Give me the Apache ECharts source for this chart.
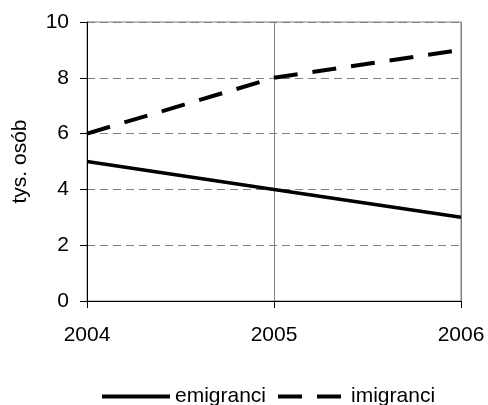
<!DOCTYPE html>
<html>
<head>
<meta charset="utf-8">
<script src="https://cdn.jsdelivr.net/npm/echarts@6/dist/echarts.min.js"></script>
<style>html,body{margin:0;padding:0;background:#fff}#c{width:488px;height:405px}</style>
</head>
<body>
<div id="c"></div>
<script>
const years = ['2004', '2005', '2006'];
const emigranci = [5, 4, 3];
const imigranci = [6, 8, 9];
const yTicks = { min: 0, max: 10, interval: 2 };
const seriesNames = ['emigranci', 'imigranci'];
const axisTitle = 'tys. osób';

const FONT = 'Liberation Sans, Arial, sans-serif';
const chart = echarts.init(document.getElementById('c'), null, { renderer: 'canvas' });
chart.setOption({
  animation: false,
  backgroundColor: '#fff',
  textStyle: { fontFamily: FONT },
  grid: { left: 87, right: 27, top: 22, bottom: 104, show: true, borderColor: '#808080', borderWidth: 1, backgroundColor: 'transparent' },
  legend: {
    top: 381, left: 95,
    itemWidth: 68, itemHeight: 14, itemGap: 10,
    itemStyle: { opacity: 0 },
    lineStyle: { width: 4 },
    textStyle: { fontFamily: FONT, fontSize: 21, color: '#000' },
    data: seriesNames
  },
  xAxis: {
    type: 'category', data: years, boundaryGap: false,
    axisLine: { show: true, lineStyle: { color: '#000', width: 1 } },
    axisTick: { show: true, length: 7, lineStyle: { color: '#000' } },
    axisLabel: { fontFamily: FONT, fontSize: 21, color: '#000', margin: 24 },
    splitLine: { show: true, lineStyle: { color: '#808080', width: 1, type: 'solid' } }
  },
  yAxis: {
    type: 'value', min: yTicks.min, max: yTicks.max, interval: yTicks.interval,
    name: axisTitle, nameLocation: 'middle', nameGap: 56, nameRotate: 90,
    nameTextStyle: { fontFamily: FONT, fontSize: 21, color: '#000' },
    axisLine: { show: true, lineStyle: { color: '#000', width: 1 } },
    axisTick: { show: true, length: 7, lineStyle: { color: '#000' } },
    axisLabel: { fontFamily: FONT, fontSize: 21, color: '#000', margin: 18 },
    splitLine: { show: true, lineStyle: { color: '#808080', width: 1, type: [8, 5] } }
  },
  series: [
    {
      name: seriesNames[0], type: 'line', data: emigranci, symbol: 'none',
      lineStyle: { color: '#000', width: 3.5, type: 'solid' },
      itemStyle: { color: '#000' }, z: 5
    },
    {
      name: seriesNames[1], type: 'line', data: imigranci, symbol: 'none',
      lineStyle: { color: '#000', width: 4, type: [24, 15] },
      itemStyle: { color: '#000' }, z: 5
    }
  ]
});
</script>
</body>
</html>
